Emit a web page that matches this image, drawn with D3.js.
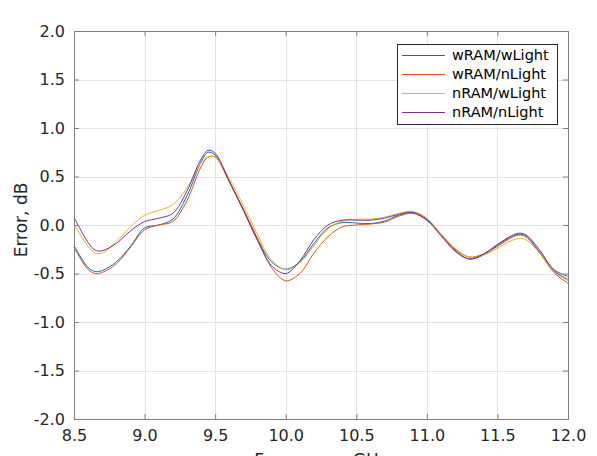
<!DOCTYPE html>
<html>
<head>
<meta charset="utf-8">
<script src="https://cdn.jsdelivr.net/npm/d3@7"></script>
<style>
  body { margin: 0; background: #fff; }
  svg { display: block; font-family: "DejaVu Sans", sans-serif; }
</style>
</head>
<body>
<svg width="597" height="456"></svg>
<script>
"use strict";

// frequency samples, GHz
const freq = [8.5, 8.6, 8.65, 8.7, 8.8, 8.9, 9.0, 9.1, 9.2, 9.3, 9.4, 9.45, 9.5, 9.6, 9.7, 9.8, 9.9,
  10.0, 10.1, 10.2, 10.3, 10.4, 10.5, 10.6, 10.7, 10.8, 10.9, 11.0, 11.1, 11.2, 11.3, 11.4, 11.5,
  11.6, 11.65, 11.7, 11.8, 11.9, 12.0];

const wRAM_wLight = [-0.21, -0.44, -0.48, -0.47, -0.38, -0.22, -0.03, 0.00, 0.06, 0.30, 0.65, 0.75, 0.72,
  0.45, 0.16, -0.14, -0.38, -0.455, -0.38, -0.19, -0.03, 0.025, 0.02, 0.015, 0.04, 0.10, 0.13, 0.06,
  -0.10, -0.26, -0.35, -0.31, -0.21, -0.12, -0.095, -0.11, -0.28, -0.46, -0.53];
const wRAM_nLight = [-0.23, -0.46, -0.50, -0.49, -0.40, -0.23, -0.05, 0.00, 0.035, 0.25, 0.60, 0.70, 0.70,
  0.45, 0.16, -0.14, -0.44, -0.575, -0.50, -0.29, -0.12, -0.02, 0.00, 0.01, 0.03, 0.09, 0.12, 0.05,
  -0.10, -0.25, -0.33, -0.30, -0.22, -0.13, -0.105, -0.12, -0.29, -0.49, -0.60];
const nRAM_wLight = [0.01, -0.22, -0.29, -0.29, -0.17, -0.02, 0.10, 0.15, 0.21, 0.38, 0.64, 0.70, 0.70,
  0.48, 0.20, -0.10, -0.36, -0.46, -0.39, -0.21, -0.04, 0.04, 0.06, 0.06, 0.08, 0.12, 0.14, 0.07,
  -0.09, -0.24, -0.33, -0.31, -0.24, -0.16, -0.14, -0.15, -0.29, -0.48, -0.575];
const nRAM_nLight = [0.08, -0.18, -0.26, -0.265, -0.19, -0.06, 0.035, 0.07, 0.12, 0.35, 0.68, 0.77, 0.74,
  0.45, 0.15, -0.16, -0.42, -0.50, -0.37, -0.15, 0.00, 0.05, 0.05, 0.05, 0.07, 0.11, 0.13, 0.05,
  -0.11, -0.27, -0.35, -0.30, -0.20, -0.11, -0.085, -0.10, -0.26, -0.47, -0.56];

const seriesNames = ["wRAM/wLight", "wRAM/nLight", "nRAM/wLight", "nRAM/nLight"];
const seriesValues = [wRAM_wLight, wRAM_nLight, nRAM_wLight, nRAM_nLight];
const seriesColors = ["#0072BD", "#D95319", "#EDB120", "#7E2F8E"];

const xTicks = [8.5, 9.0, 9.5, 10.0, 10.5, 11.0, 11.5, 12.0];
const yTicks = [-2.0, -1.5, -1.0, -0.5, 0.0, 0.5, 1.0, 1.5, 2.0];

var svg = d3.select("svg"),
    plotL = 74, plotR = 568, plotT = 31, plotB = 419;

var x = d3.scaleLinear().domain([8.5, 12.0]).range([plotL, plotR]);
var y = d3.scaleLinear().domain([-2, 2]).range([plotB, plotT]);

// grid
var grid = svg.append("g").attr("stroke", "#e3e3e3").attr("stroke-width", 1);
grid.selectAll("line.gx").data(xTicks.slice(1, -1)).enter().append("line")
    .attr("x1", d => Math.round(x(d)) + 0.5).attr("x2", d => Math.round(x(d)) + 0.5)
    .attr("y1", plotT).attr("y2", plotB);
grid.selectAll("line.gy").data(yTicks.slice(1, -1)).enter().append("line")
    .attr("y1", d => Math.round(y(d)) + 0.5).attr("y2", d => Math.round(y(d)) + 0.5)
    .attr("x1", plotL).attr("x2", plotR);

// curves
var line = d3.line()
    .x((d, i) => x(freq[i]))
    .y(d => y(d))
    .curve(d3.curveCatmullRom.alpha(0.5));

svg.append("g").selectAll("path")
    .data(seriesValues)
    .enter().append("path")
    .attr("fill", "none")
    .attr("stroke", (d, i) => seriesColors[i])
    .attr("stroke-width", 1)
    .attr("d", line);

// axes (box with inner ticks)
const axisColor = "#808080";
function styleAxis(g) {
  g.select(".domain").remove();
  g.selectAll(".tick line").attr("stroke", axisColor);
  g.selectAll(".tick text").attr("fill", "#262626").attr("font-size", 16)
    .attr("font-family", "DejaVu Sans, sans-serif");
}
// plain hyphen for negatives, like the original
var fmt = d => d3.format(".1f")(d).replace("\u2212", "-");

svg.append("g").attr("transform", `translate(0,${plotB})`)
    .call(d3.axisBottom(x).tickValues(xTicks).tickFormat(fmt).tickSizeInner(-5).tickSizeOuter(0).tickPadding(11))
    .call(styleAxis);
svg.append("g").attr("transform", `translate(0,${plotT})`)
    .call(d3.axisTop(x).tickValues(xTicks).tickFormat("").tickSizeInner(-5).tickSizeOuter(0))
    .call(styleAxis);
svg.append("g").attr("transform", `translate(${plotL},0)`)
    .call(d3.axisLeft(y).tickValues(yTicks).tickFormat(fmt).tickSizeInner(-5).tickSizeOuter(0).tickPadding(9))
    .call(styleAxis);
svg.append("g").attr("transform", `translate(${plotR},0)`)
    .call(d3.axisRight(y).tickValues(yTicks).tickFormat("").tickSizeInner(-5).tickSizeOuter(0))
    .call(styleAxis);

svg.append("rect")
    .attr("x", plotL + 0.5).attr("y", plotT + 0.5)
    .attr("width", plotR - plotL).attr("height", plotB - plotT)
    .attr("fill", "none").attr("stroke", axisColor).attr("stroke-width", 1);

// axis labels (x label is cut by the bottom edge in the original too)
svg.append("text")
    .attr("x", (plotL + plotR) / 2).attr("y", 466)
    .attr("text-anchor", "middle").attr("font-size", 17).attr("fill", "#262626")
    .text("Frequency, GHz");
svg.append("text")
    .attr("transform", "translate(27,220) rotate(-90)")
    .attr("text-anchor", "middle").attr("font-size", 17).attr("fill", "#262626")
    .text("Error, dB");

// legend
var legend = svg.append("g").attr("transform", "translate(397,44)");
legend.append("rect")
    .attr("x", 0.5).attr("y", 0.5).attr("width", 160).attr("height", 80)
    .attr("fill", "#fff").attr("stroke", "#262626").attr("stroke-width", 1);
var item = legend.selectAll("g.item").data(seriesNames).enter().append("g")
    .attr("transform", (d, i) => `translate(0,${11 + i * 19})`);
item.append("line")
    .attr("x1", 5).attr("x2", 48).attr("y1", 0.5).attr("y2", 0.5)
    .attr("stroke", (d, i) => seriesColors[i]).attr("stroke-width", 1);
item.append("text")
    .attr("x", 55).attr("y", 0).attr("dy", "0.35em")
    .attr("font-size", 14.5).attr("fill", "#000")
    .text(d => d);
</script>
</body>
</html>
